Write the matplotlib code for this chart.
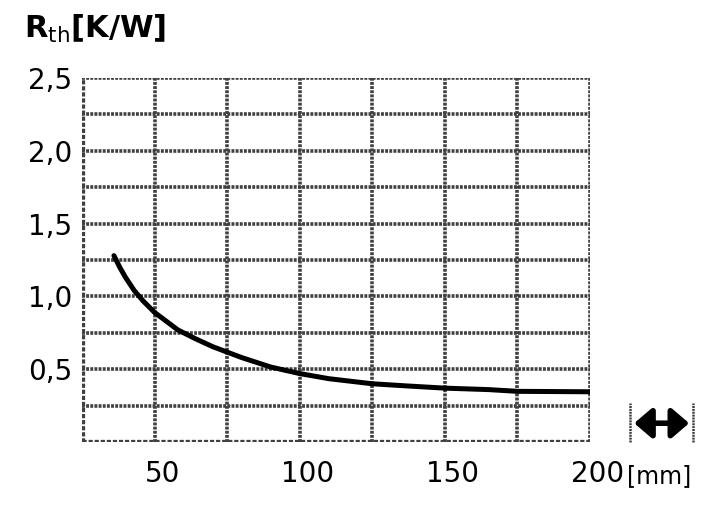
import numpy as np
import matplotlib
matplotlib.use("Agg")
import matplotlib.pyplot as plt
import matplotlib.transforms as mtransforms
from matplotlib.lines import Line2D
from matplotlib.patches import FancyArrowPatch

# Curve: length [mm] vs thermal resistance [K/W]
length_mm = [36, 38, 40, 43, 46, 50, 54, 58, 64, 70, 80, 90, 100, 110, 125, 137,
             150, 165, 175, 200]
r_th = [1.28, 1.20, 1.13, 1.04, 0.97, 0.89, 0.83, 0.77, 0.71, 0.655, 0.58, 0.515,
        0.47, 0.435, 0.40, 0.385, 0.37, 0.36, 0.348, 0.345]

x_ticks = [50, 100, 150, 200]
x_tick_labels = ["50", "100", "150", "200"]
y_ticks = [0.5, 1.0, 1.5, 2.0, 2.5]
y_tick_labels = ["0,5", "1,0", "1,5", "2,0", "2,5"]

GRID = "#404040"
DOTS = (0.8, 0.35)

fig = plt.figure(figsize=(7.2, 5.18), dpi=100)
ax = fig.add_axes([0.1139, 0.1467, 0.7056, 0.7027])

ax.set_xlim(25, 200)
ax.set_ylim(0, 2.5)

# dotted grid every 25 mm / 0.25 K/W, heavier on the left and bottom edge
for gx in np.arange(25, 201, 25):
    lw = 3.8 if gx == 25 else 2.6
    ax.axvline(gx, color=GRID, lw=lw, dashes=DOTS, zorder=1)
for gy in np.arange(0, 2.51, 0.25):
    lw = 3.8 if gy == 0 else 2.6
    ax.axhline(gy, color=GRID, lw=lw, dashes=DOTS, zorder=1)

for s in ax.spines.values():
    s.set_visible(False)

ax.plot(length_mm, r_th, color="black", lw=3.6, zorder=3,
        solid_capstyle="round", solid_joinstyle="round")

ax.set_xticks(x_ticks)
ax.set_xticklabels(x_tick_labels)
ax.set_yticks(y_ticks)
ax.set_yticklabels(y_tick_labels)
ax.tick_params(length=0, labelsize=20, colors="black")
ax.tick_params(axis="x", pad=13)
ax.tick_params(axis="y", pad=7)

# labels in the scan sit a little right of their grid lines
shift = mtransforms.ScaledTranslation(8 / 100, 0, fig.dpi_scale_trans)
for lab in ax.get_xticklabels():
    lab.set_transform(lab.get_transform() + shift)

fig.text(0.033, 0.945, r"R$_{\mathrm{th}}$[K/W]", fontsize=22, fontweight="bold",
         ha="left", va="center")
fig.text(0.871, 0.081, "[mm]", fontsize=17, ha="left", va="center")

# length symbol: double arrow between two bars
for bx in (0.875, 0.963):
    fig.add_artist(Line2D([bx, bx], [0.147, 0.222], transform=fig.transFigure,
                          color=GRID, lw=1.8, dashes=DOTS))
fig.add_artist(FancyArrowPatch(
    (0.877, 0.183), (0.961, 0.183), transform=fig.transFigure,
    arrowstyle="<|-|>,head_length=7,head_width=6", color="black", lw=4,
    mutation_scale=1.5))

fig.savefig("out.png", dpi=100, facecolor="white")
